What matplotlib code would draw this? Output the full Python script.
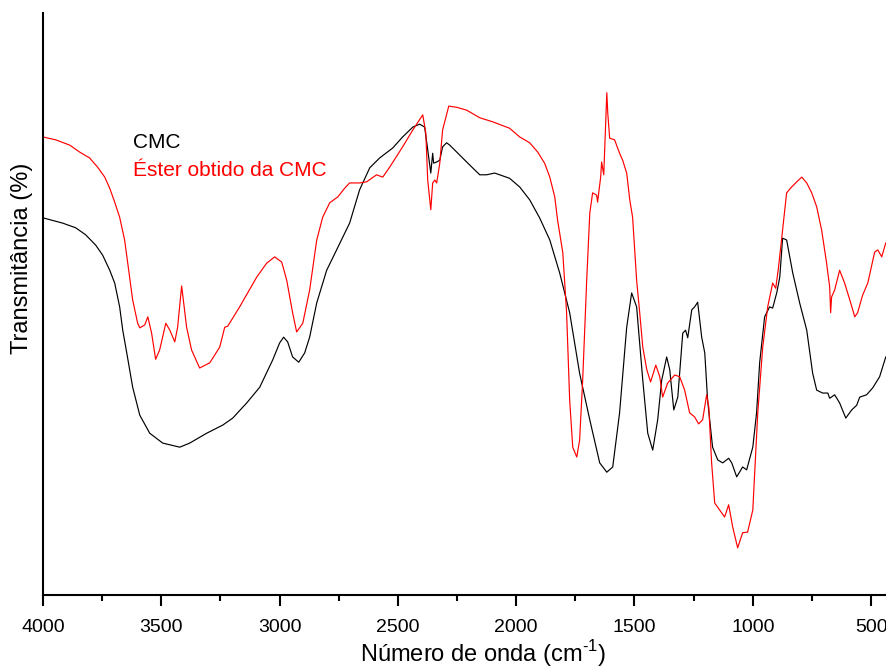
import matplotlib
matplotlib.use("Agg")
import matplotlib.pyplot as plt
from matplotlib.ticker import MultipleLocator

plt.rcParams['font.family'] = ['Liberation Sans', 'DejaVu Sans']
plt.rcParams['mathtext.fontset'] = 'custom'
plt.rcParams['mathtext.rm'] = 'Liberation Sans'

# CMC spectrum (wavenumber cm-1, transmittance %)
cmc_wn = [4000, 3917, 3862, 3820, 3777, 3748, 3718, 3697, 3676, 3663, 3646, 3621, 3591, 3549,
          3494, 3422, 3380, 3308, 3240, 3198, 3139, 3084, 3029, 3000, 2983, 2966, 2945, 2919,
          2894, 2873, 2843, 2801, 2759, 2704, 2662, 2619, 2577, 2522, 2480, 2437, 2408, 2387,
          2374, 2361, 2353, 2349, 2336, 2323, 2311, 2294, 2281, 2239, 2197, 2154, 2125, 2091,
          2028, 1985, 1943, 1901, 1858, 1816, 1774, 1732, 1689,
          1647, 1617, 1592, 1563, 1533, 1512, 1491, 1465, 1444, 1423, 1402, 1385, 1364, 1351,
          1334, 1317, 1296, 1284, 1275, 1258, 1246, 1233, 1216, 1203, 1191, 1170, 1148, 1127,
          1102, 1089, 1068, 1043, 1026, 1000, 984, 971, 950, 929, 916, 899, 886, 874, 857, 831,
          802, 772, 747, 730, 705, 683, 675, 654, 633, 607, 582, 561, 548, 519, 493, 464, 438]
cmc_t = [64.8, 63.9, 63.1, 61.9, 60.1, 58.4, 55.8, 53.6, 49.5, 45.5, 41.6, 35.7, 30.9, 27.8,
         26.1, 25.4, 26.1, 27.8, 29.2, 30.4, 33.0, 35.7, 40.4, 43.3, 44.3, 43.5, 40.9, 40.0,
         41.6, 44.3, 50.2, 55.8, 59.3, 63.9, 69.6, 73.4, 75.1, 76.8, 78.7, 80.4, 80.9, 80.4,
         76.5, 72.5, 75.9, 74.2, 74.4, 74.7, 77.0, 77.7, 77.3, 75.6, 73.9, 72.2, 72.2, 72.5,
         71.6, 70.1, 67.9, 64.8, 61.0, 55.3, 48.5, 38.1, 30.1,
         22.7, 21.1, 22.0, 31.3, 46.0, 51.9, 49.5, 36.9, 27.8, 24.9, 30.1, 36.9, 40.9, 38.7,
         31.8, 34.0, 45.0, 45.5, 44.2, 49.0, 49.5, 50.3, 44.3, 41.6, 33.5, 25.4, 23.2, 22.7,
         23.5, 22.7, 20.3, 22.0, 21.5, 25.4, 31.3, 39.9, 47.8, 49.5, 49.3, 51.9, 54.6, 61.3,
         61.0, 55.3, 50.2, 45.5, 38.1, 35.2, 34.7, 34.7, 33.8, 34.4, 33.0, 30.4, 31.8, 32.6,
         34.0, 34.4, 35.6, 37.5, 40.9]

# Ester obtained from CMC
est_wn = [4000, 3946, 3887, 3845, 3803, 3769, 3739, 3718, 3697, 3676, 3655, 3638, 3621, 3600,
          3591, 3570, 3557, 3541, 3524, 3507, 3481, 3464, 3443, 3431, 3414, 3393, 3372, 3338,
          3295, 3253, 3232, 3219, 3169, 3097, 3055, 3021, 2991, 2970, 2945, 2928, 2902, 2873,
          2843, 2818, 2788, 2754, 2725, 2704, 2662, 2632, 2590, 2564, 2535, 2480, 2437, 2395,
          2382, 2374, 2361, 2353, 2344, 2336, 2323, 2311, 2285, 2252, 2209, 2154, 2099, 2028,
          1985, 1943, 1909, 1880, 1858, 1837, 1825, 1803, 1787, 1774, 1761, 1744, 1732, 1719,
          1702, 1689, 1677, 1660, 1656,
          1643, 1639, 1630, 1617, 1613, 1605, 1584, 1563, 1550, 1533, 1520, 1508, 1491, 1478,
          1465, 1448, 1432, 1410, 1393, 1381, 1360, 1330, 1309, 1288, 1267, 1246, 1229, 1212,
          1195, 1186, 1174, 1161, 1140, 1119, 1102, 1085, 1064, 1043, 1022, 1000, 979, 958,
          937, 916, 903, 891, 874, 857, 836, 814, 793, 772, 751, 730, 709, 688, 675, 671, 667,
          654, 633, 612, 590, 569, 557, 536, 514, 485, 472, 455, 438]
est_t = [78.7, 78.2, 77.3, 76.1, 75.1, 73.5, 71.8, 69.9, 67.5, 64.9, 61.0, 55.8, 50.7, 46.7,
         45.9, 46.4, 47.8, 45.0, 40.5, 42.1, 46.7, 45.5, 43.5, 46.0, 53.1, 46.0, 42.1, 39.0,
         39.9, 42.6, 46.0, 46.2, 49.5, 54.6, 57.0, 58.1, 57.2, 54.1, 48.5, 45.2, 46.7, 52.4,
         61.0, 64.9, 67.4, 68.4, 69.9, 70.8, 70.8, 71.0, 72.2, 71.8, 73.5, 77.0, 79.9, 82.5,
         79.4, 71.3, 66.2, 70.8, 71.3, 70.8, 74.2, 79.9, 84.0, 83.8, 83.3, 82.0, 81.3, 80.2,
         78.7, 77.7, 76.1, 74.2, 71.8, 68.4, 64.4, 58.8, 48.5, 33.5, 25.4, 23.7, 26.6, 36.9,
         54.1, 65.6, 69.1, 68.7, 67.5,
         71.8, 74.4, 72.2, 86.3, 82.8, 78.5, 78.2, 75.9, 74.7, 72.5, 67.9, 64.9, 54.1, 48.5,
         42.6, 38.7, 36.6, 39.5, 37.5, 34.0, 36.4, 37.8, 37.5, 35.2, 31.3, 30.6, 29.4, 30.1,
         34.4, 32.3, 22.7, 15.8, 14.6, 13.4, 15.5, 11.7, 8.1, 10.7, 10.8, 14.6, 31.3, 42.6,
         49.5, 53.6, 52.7, 56.4, 62.7, 69.1, 70.1, 71.0, 71.8, 70.8, 69.1, 66.7, 62.7, 57.0,
         52.9, 48.5, 51.2, 52.4, 55.8, 53.6, 50.7, 47.8, 48.5, 51.5, 53.6, 58.9, 59.3, 58.1,
         60.5]

labels = ["CMC", "Éster obtido da CMC"]
colors = ["#000000", "#ff0000"]

W, H = 886, 669
fig = plt.figure(figsize=(W / 100, H / 100), dpi=100)
ax = fig.add_axes([43 / W, 74 / H, 843 / W, 582 / H])

ax.plot(cmc_wn, cmc_t, color=colors[0], lw=0.85)
ax.plot(est_wn, est_t, color=colors[1], lw=0.85)

ax.set_xlim(4000, 437)
ax.set_ylim(0, 100)
ax.xaxis.set_major_locator(MultipleLocator(500))
ax.xaxis.set_minor_locator(MultipleLocator(250))
ax.tick_params(axis='x', which='major', direction='out', length=8, width=1.5,
               labelsize=14, pad=9)
ax.tick_params(axis='x', which='minor', direction='out', length=4.5, width=1.5)
ax.set_yticks([])
for s in ['top', 'right']:
    ax.spines[s].set_visible(False)
for s in ['left', 'bottom']:
    ax.spines[s].set_linewidth(1.5)

ax.text((133 - 43) / 843, 1 - (143 - 13) / 582, labels[0], transform=ax.transAxes,
        color=colors[0], fontsize=15, ha='left', va='center')
ax.text((133 - 43) / 843, 1 - (171 - 13) / 582, labels[1],
        transform=ax.transAxes, color=colors[1], fontsize=15, ha='left', va='center')

fig.text(483 / W, 1 - 662 / H, r"Número de onda (cm$^{\text{-1}}$)", ha='center',
         va='baseline', fontsize=17)
fig.text(22 / W, 1 - 258 / H, "Transmitância (%)", rotation=90, ha='center',
         va='center', fontsize=17)

fig.savefig("out.png", dpi=100)
